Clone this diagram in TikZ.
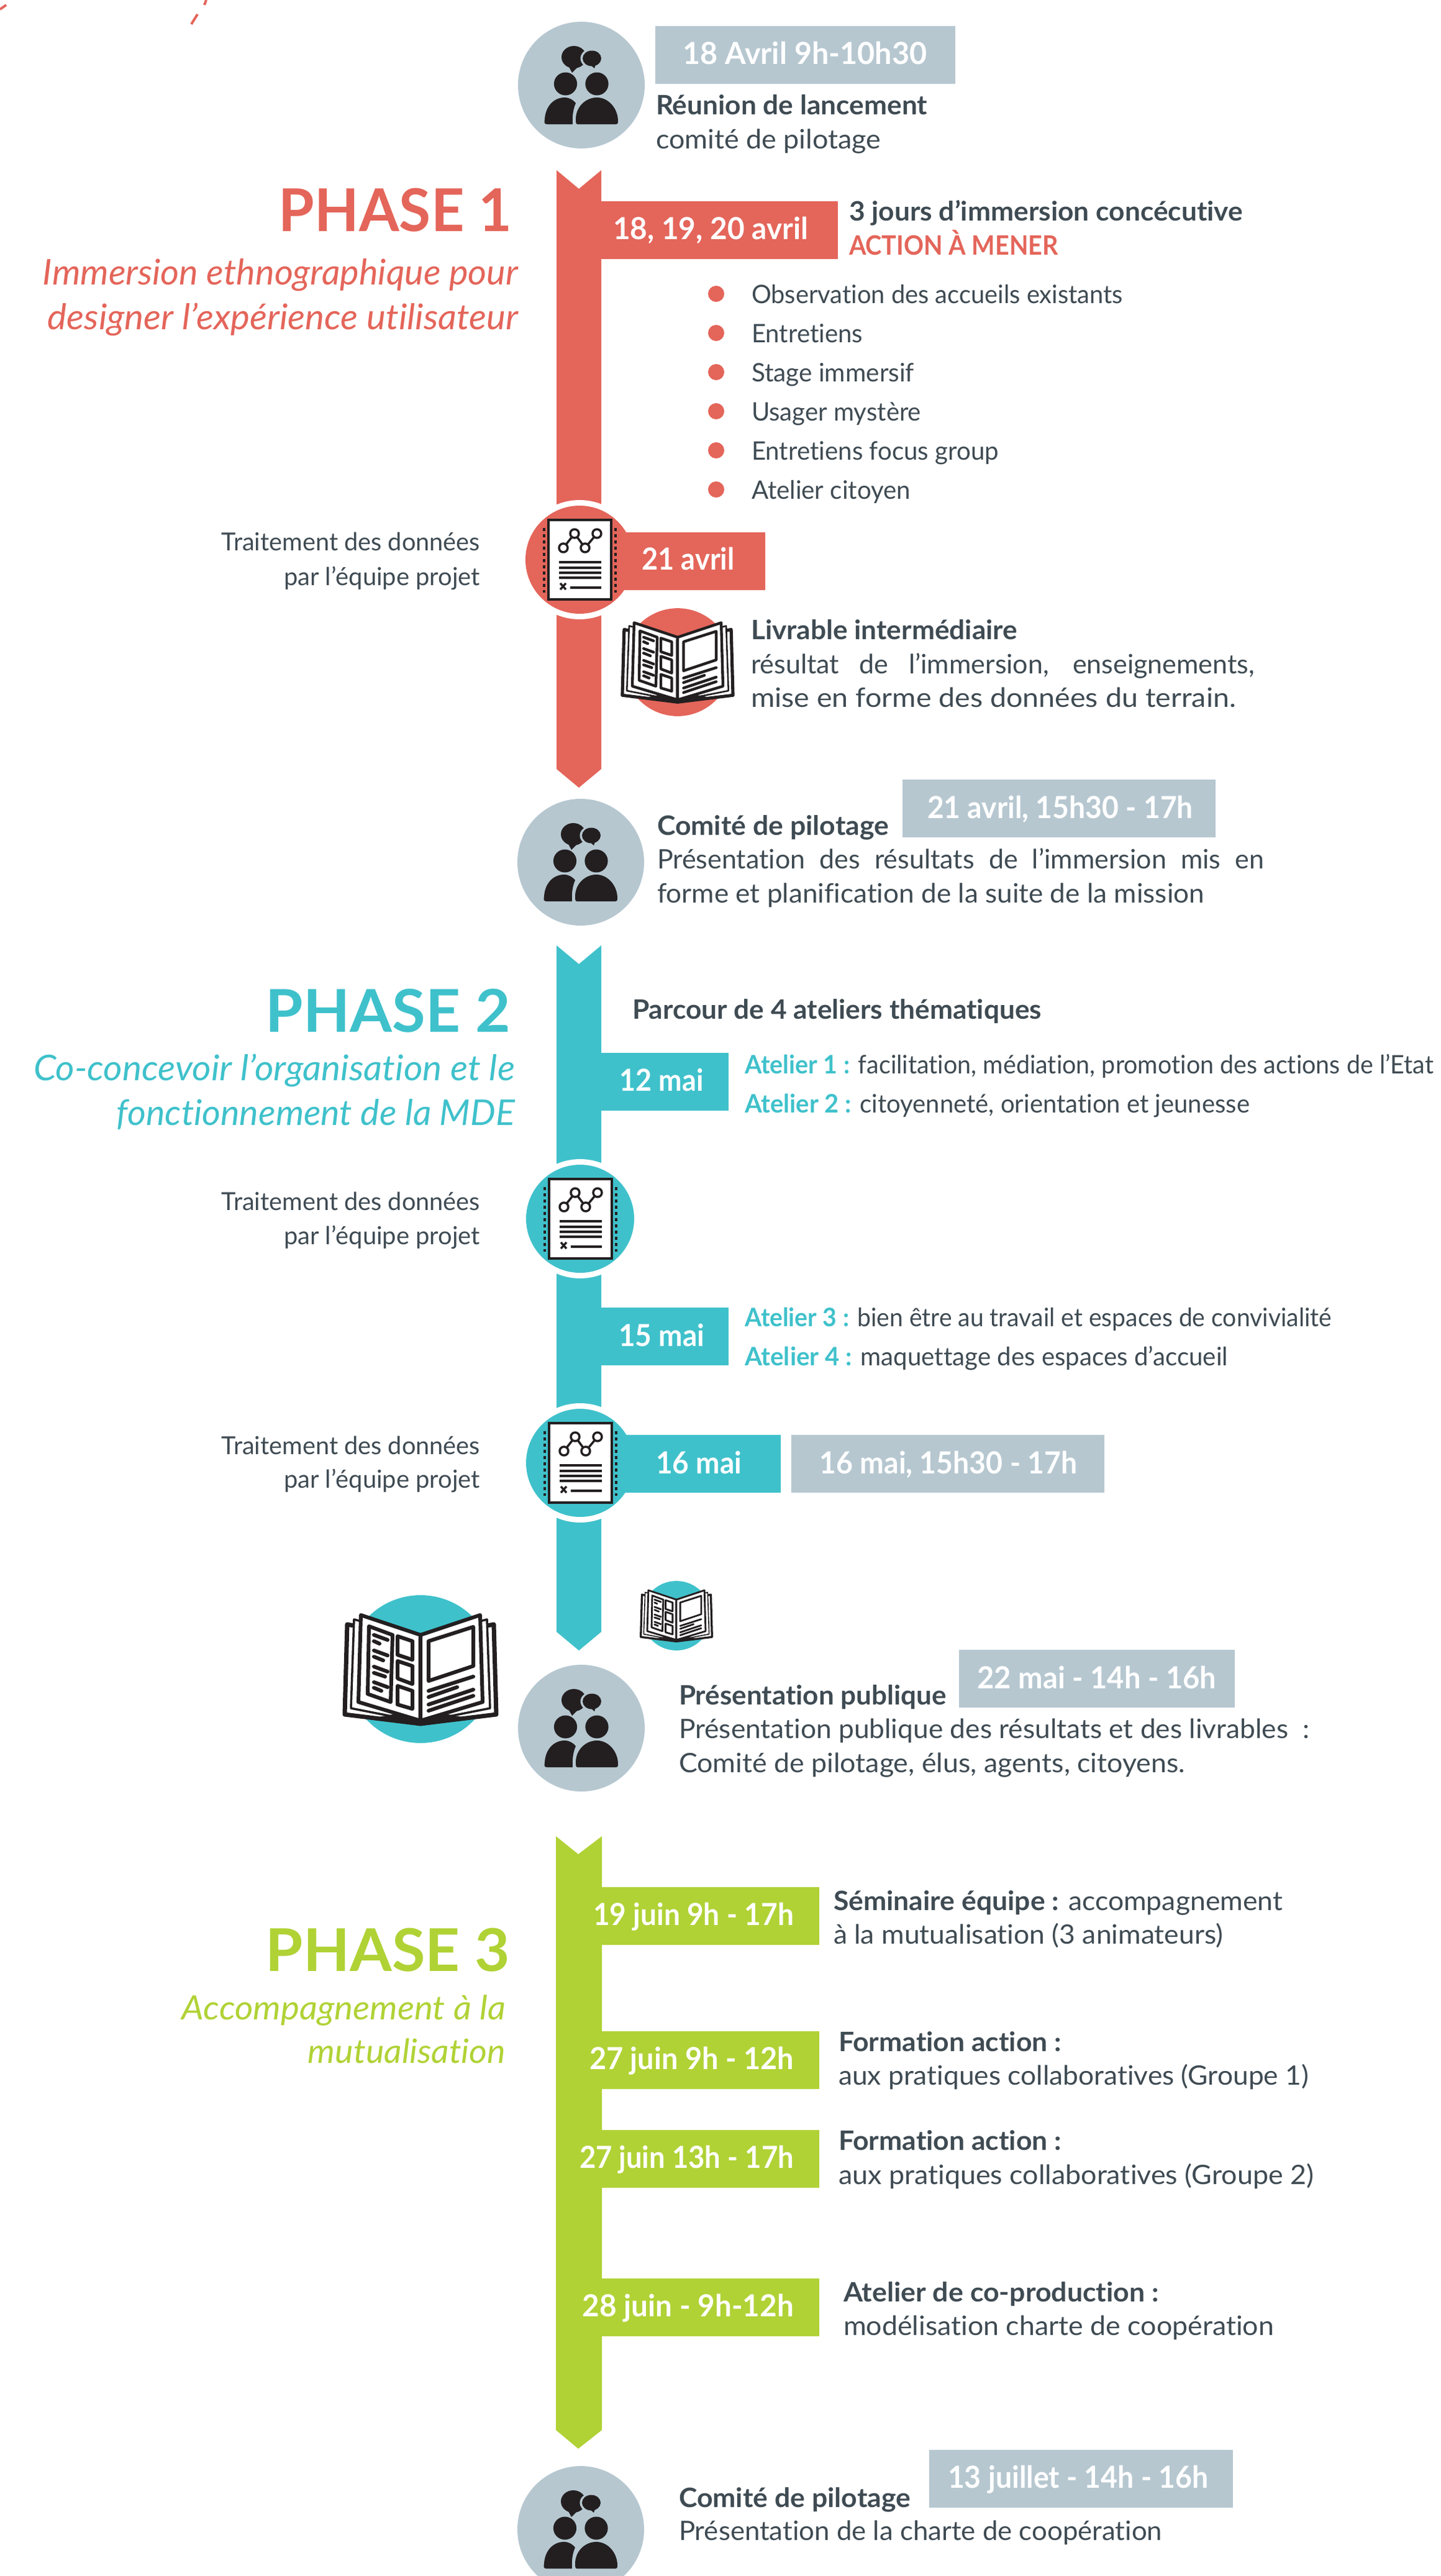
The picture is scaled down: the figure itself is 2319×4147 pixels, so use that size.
\documentclass[tikz,border=0pt]{standalone}
\usepackage{fontspec}
\usepackage{graphicx}
\setmainfont{Lato}[Ligatures={TeX,NoCommon}]
\definecolor{coral}{HTML}{E4655A}
\definecolor{teal}{HTML}{3FC1CB}
\definecolor{lime}{HTML}{B0D235}
\definecolor{slate}{HTML}{B6C7D0}
\definecolor{ink}{HTML}{3F4B53}
\definecolor{coal}{HTML}{231F20}
\tikzset{
  lbl/.style={inner sep=0pt,outer sep=0pt,text=ink},
  icoline/.style={draw=coal,line cap=round,line join=round}
}
% text fitted to a measured width
\newcommand{\tx}[7]{\node[lbl,anchor=#4] (#1) at (#2,#3) {\resizebox{#5pt}{\height}{\fontsize{#6pt}{#6pt}\selectfont #7}};}
% justified line
\newcommand{\jt}[7]{\node[lbl,anchor=#4] (#1) at (#2,#3) {\fontsize{#6pt}{#6pt}\selectfont\makebox[#5pt][s]{#7}};}
\newcommand{\people}[2]{%
\begin{scope}[shift={(#1,#2)}]
\fill[slate] (0,0) circle[radius=102];
\fill[coal] (-12,-45) ellipse[x radius=20,y radius=18];
\fill[coal] (-21,-31) -- (-15,-20) -- (-4,-31) -- cycle;
\fill[slate] (17,-43) ellipse[x radius=18.5,y radius=15.5];
\fill[coal] (17,-43) ellipse[x radius=15,y radius=12.5];
\fill[coal] (14,-33) -- (21,-27) -- (23,-33) -- cycle;
\fill[coal] (-25.5,-2) ellipse[x radius=18.6,y radius=18.5];
\fill[coal] (25,-2) ellipse[x radius=18.6,y radius=18.5];
\fill[coal] (-55,63) .. controls (-60,63) and (-60,60) .. (-59,55) .. controls (-58,35) and (-45,20) .. (-27,20) .. controls (-19,20) and (-13,24) .. (-9,29) .. controls (-13,38) and (-15,50) .. (-14,63) -- cycle;
\fill[coal] (-6,63) .. controls (-9,63) and (-9,60) .. (-9,55) .. controls (-9,35) and (7,20) .. (25,20) .. controls (44,20) and (59,38) .. (59,58) .. controls (59,62) and (58,63) .. (56,63) -- cycle;
\end{scope}}
\newcommand{\docicon}[3]{%
\begin{scope}[shift={(#1,#2)}]
\filldraw[fill=white,draw=coal,line width=4.5] (-50,-64) rectangle (51,64);
\draw[coal,line width=3.5,dash pattern=on 5 off 5] (-57,-51) -- (-57,53);
\draw[coal,line width=3.5,dash pattern=on 5 off 5] (58,-51) -- (58,53);
\draw[icoline,line width=3.5] (-26,-19) -- (-8,-42) -- (9,-19) -- (28,-42);
\foreach \px/\py in {-26/-19,-8/-42,9/-19,28/-42}
  \filldraw[fill=white,icoline,line width=3.5] (\px,\py) circle[radius=7];
\foreach \py in {4,13,21,29}
  \draw[coal,line width=3.8] (-33,\py) -- (35,\py);
\draw[coal,line width=3.8] (-15,45) -- (35,45);
\draw[coal,line width=3.4] (-31,38) -- (-22,48) (-22,38) -- (-31,48);
\end{scope}}
\newcommand{\bookicon}[4]{%
\begin{scope}[shift={(#1,#2)},scale=#3]
\fill[#4] (0,0) circle[radius=119];
\begin{scope}[icoline,line width=#3*6,fill=white]
\foreach \sg in {1,-1}{
 \begin{scope}[xscale=\sg]
  \filldraw[line width=#3*7] (0,-50) -- (-118,-72) -- (-122,73) -- (0,88) -- cycle;
  \filldraw[line width=#3*3.5] (0,-52) -- (-107,-80) -- (-112,63) -- (0,85) -- cycle;
  \filldraw (0,-55) -- (-96,-87) -- (-100,53) -- (0,83) -- cycle;
  \fill[coal] (0,91) -- (-72,78) -- (-40,72) -- (0,84) -- cycle;
 \end{scope}}
\draw[line width=#3*3] (0,-55) -- (0,85);
\draw (-83,-69) -- (-45,-55) -- (-48,53) -- (-85,40) -- cycle;
\draw (-37,-53) -- (-13,-45) -- (-13,-15) -- (-37,-23) -- cycle;
\draw (-37,-13) -- (-13,-5) -- (-13,24) -- (-37,15) -- cycle;
\draw (-37,27) -- (-13,35) -- (-13,64) -- (-37,57) -- cycle;
\draw (13,-45) -- (85,-68) -- (85,-5) -- (13,19) -- cycle;
\draw (13,35) -- (85,12) (13,45) -- (59,29) (13,57) -- (85,33) (13,67) -- (85,43);
\draw (-75,-55) -- (-53,-47) (-75,-45) -- (-66,-41) (-75,-30) -- (-53,-22) (-75,-20) -- (-60,-14);
\draw (-75,-4) -- (-53,4) (-75,6) -- (-57,12) (-75,21) -- (-53,29) (-75,30) -- (-63,35);
\end{scope}
\end{scope}}
\begin{document}
\begin{tikzpicture}[x=1pt,y=-1pt]
\useasboundingbox (0,0) rectangle (2319,4147);
\clip (0,0) rectangle (2319,4147);
% stray marks top left
\draw[coral,line width=4] (0,15) -- (10,8);
\draw[coral,line width=4] (332,0) -- (329,8);
\draw[coral,line width=4] (318,23) -- (308,39);

% spines
\fill[coral] (896,274) -- (932,304) -- (968,274) -- (968,1238) -- (932,1268) -- (896,1238) -- cycle;
\fill[teal] (896,1522) -- (932,1552) -- (968,1522) -- (968,2627) -- (932,2657) -- (896,2627) -- cycle;
\fill[lime] (895,2956) -- (931,2985) -- (969,2956) -- (969,3912) -- (931,3942) -- (895,3912) -- cycle;

% white rings
\fill[white] (933,901) circle[radius=96];
\fill[white] (934,1962) circle[radius=96];
\fill[white] (934,2355) circle[radius=96];

% date boxes
\fill[coral] (968,324) rectangle (1349,417);
\fill[coral] (968,857) rectangle (1232,950);
\fill[teal] (968,1695) rectangle (1173,1788);
\fill[teal] (968,2105) rectangle (1173,2198);
\fill[teal] (968,2310) rectangle (1257,2403);
\fill[lime] (969,3038) rectangle (1319,3131);
\fill[lime] (969,3270) rectangle (1319,3363);
\fill[lime] (969,3429) rectangle (1319,3522);
\fill[lime] (969,3668) rectangle (1319,3761);
% grey boxes
\fill[slate] (1055,42) rectangle (1538,135);
\fill[slate] (1453,1255) rectangle (1957,1348);
\fill[slate] (1274,2310) rectangle (1778,2403);
\fill[slate] (1544,2656) rectangle (1988,2749);
\fill[slate] (1496,3944) rectangle (1985,4037);

% circles with icons
\people{936}{137}
\people{935}{1388}
\people{936}{2782}
\people{935}{4072}
\fill[coral] (933,901) circle[radius=87];
\docicon{933}{901}{coral}
\fill[teal] (934,1962) circle[radius=87];
\docicon{934}{1962}{teal}
\fill[teal] (934,2355) circle[radius=87];
\docicon{934}{2355}{teal}
\bookicon{1091}{1066}{0.73}{coral}
\bookicon{677}{2687}{1}{teal}
\bookicon{1089}{2601}{0.47}{teal}

% bullets
\foreach \i in {0,...,5}
  \fill[coral] (1153,473+63*\i) circle[radius=13];

% top
\tx{d0}{1296}{103}{base}{393}{49}{\color{white}\bfseries 18 Avril 9h-10h30}
\tx{a1}{1056}{184}{base west}{437}{43}{\bfseries Réunion de lancement}
\tx{a2}{1056}{239}{base west}{362}{43}{comité de pilotage}

% phase 1
\tx{p1}{824}{372}{base east}{375}{95}{\color{coral}\bfseries PHASE 1}
\tx{p1a}{834}{458}{base east}{765}{57}{\color{coral}\itshape Immersion ethnographique pour}
\tx{p1b}{834}{530}{base east}{757}{57}{\color{coral}\itshape designer l’expérience utilisateur}
\tx{d1}{1144}{385}{base}{314}{49}{\color{white}\bfseries 18, 19, 20 avril}
\tx{b1}{1367}{355}{base west}{634}{43}{\bfseries 3 jours d’immersion concécutive}
\tx{b2}{1367}{410}{base west}{337}{43}{\color{coral}\bfseries ACTION À MENER}
\tx{l1}{1210}{488}{base west}{598}{41}{Observation des accueils existants}
\tx{l2}{1210}{551}{base west}{179}{41}{Entretiens}
\tx{l3}{1210}{614}{base west}{262}{41}{Stage immersif}
\tx{l4}{1210}{677}{base west}{273}{41}{Usager mystère}
\tx{l5}{1210}{740}{base west}{398}{41}{Entretiens focus group}
\tx{l6}{1210}{803}{base west}{256}{41}{Atelier citoyen}
\tx{t1a}{773}{886}{base east}{416}{40}{Traitement des données}
\tx{t1b}{773}{942}{base east}{316}{40}{par l’équipe projet}
\tx{d2}{1108}{917}{base}{149}{49}{\color{white}\bfseries 21 avril}
\tx{c1}{1209}{1029}{base west}{429}{43}{\bfseries Livrable intermédiaire}
\jt{c2}{1209}{1084}{base west}{811}{43}{résultat de l’immersion, enseignements,}
\tx{c3}{1209}{1138}{base west}{781}{43}{mise en forme des données du terrain.}
\tx{d3}{1707}{1317}{base}{428}{49}{\color{white}\bfseries 21 avril, 15h30 - 17h}
\tx{e1}{1058}{1344}{base west}{373}{43}{\bfseries Comité de pilotage}
\jt{e2}{1058}{1398}{base west}{977}{43}{Présentation des résultats de l’immersion mis en}
\tx{e3}{1058}{1453}{base west}{881}{43}{forme et planification de la suite de la mission}

% phase 2
\tx{p2}{822}{1661}{base east}{394}{95}{\color{teal}\bfseries PHASE 2}
\tx{p2a}{829}{1739}{base east}{775}{57}{\color{teal}\itshape Co-concevoir l’organisation et le}
\tx{p2b}{829}{1811}{base east}{641}{57}{\color{teal}\itshape fonctionnement de la MDE}
\tx{f1}{1018}{1640}{base west}{659}{43}{\bfseries Parcour de 4 ateliers thématiques}
\tx{d4}{1065}{1756}{base}{135}{49}{\color{white}\bfseries 12 mai}
\tx{g1}{1199}{1728}{base west}{1109}{41}{{\color{teal}\bfseries Atelier 1 :} facilitation, médiation, promotion des actions de l'Etat}
\tx{g2}{1199}{1791}{base west}{813}{41}{{\color{teal}\bfseries Atelier 2 :} citoyenneté, orientation et jeunesse}
\tx{t2a}{773}{1948}{base east}{416}{40}{Traitement des données}
\tx{t2b}{773}{2003}{base east}{316}{40}{par l’équipe projet}
\tx{d5}{1065}{2167}{base}{138}{49}{\color{white}\bfseries 15 mai}
\tx{g3}{1199}{2135}{base west}{945}{41}{{\color{teal}\bfseries Atelier 3 :} bien être au travail et espaces de convivialité}
\tx{g4}{1199}{2198}{base west}{778}{41}{{\color{teal}\bfseries Atelier 4 :} maquettage des espaces d’accueil}
\tx{t3a}{773}{2341}{base east}{416}{40}{Traitement des données}
\tx{t3b}{773}{2395}{base east}{316}{40}{par l’équipe projet}
\tx{d6}{1125}{2372}{base}{138}{49}{\color{white}\bfseries 16 mai}
\tx{d7}{1527}{2372}{base}{415}{49}{\color{white}\bfseries 16 mai, 15h30 - 17h}
\tx{d8}{1766}{2718}{base}{385}{49}{\color{white}\bfseries 22 mai - 14h - 16h}
\tx{h1}{1093}{2744}{base west}{431}{43}{\bfseries Présentation publique}
\tx{h2}{1093}{2798}{base west}{1015}{43}{Présentation publique des résultats et des livrables\ \ :}
\tx{h3}{1093}{2853}{base west}{815}{43}{Comité de pilotage, élus, agents, citoyens.}

% phase 3
\tx{p3}{821}{3173}{base east}{393}{95}{\color{lime}\bfseries PHASE 3}
\tx{p3a}{814}{3251}{base east}{521}{54}{\color{lime}\itshape Accompagnement à la}
\tx{p3b}{814}{3321}{base east}{318}{54}{\color{lime}\itshape mutualisation}
\tx{d9}{1278}{3099}{base east}{323}{49}{\color{white}\bfseries 19 juin 9h - 17h}
\tx{d10}{1278}{3331}{base east}{329}{49}{\color{white}\bfseries 27 juin 9h - 12h}
\tx{d11}{1278}{3490}{base east}{345}{49}{\color{white}\bfseries 27 juin 13h - 17h}
\tx{d12}{1278}{3729}{base east}{340}{49}{\color{white}\bfseries 28 juin - 9h-12h}
\tx{i1}{1342}{3075}{base west}{723}{43}{{\bfseries Séminaire équipe :} accompagnement}
\tx{i2}{1342}{3129}{base west}{627}{43}{à la mutualisation (3 animateurs)}
\tx{j1}{1350}{3302}{base west}{359}{43}{\bfseries Formation action :}
\tx{j2}{1350}{3356}{base west}{757}{43}{aux pratiques collaboratives (Groupe 1)}
\tx{k1}{1350}{3461}{base west}{359}{43}{\bfseries Formation action :}
\tx{k2}{1350}{3516}{base west}{765}{43}{aux pratiques collaboratives (Groupe 2)}
\tx{m1}{1358}{3705}{base west}{508}{43}{\bfseries Atelier de co-production :}
\tx{m2}{1358}{3759}{base west}{693}{43}{modélisation charte de coopération}
\tx{d13}{1736}{4005}{base}{420}{49}{\color{white}\bfseries 13 juillet - 14h - 16h}
\tx{n1}{1093}{4036}{base west}{373}{43}{\bfseries Comité de pilotage}
\tx{n2}{1093}{4089}{base west}{778}{43}{Présentation de la charte de coopération}
\end{tikzpicture}
\end{document}
